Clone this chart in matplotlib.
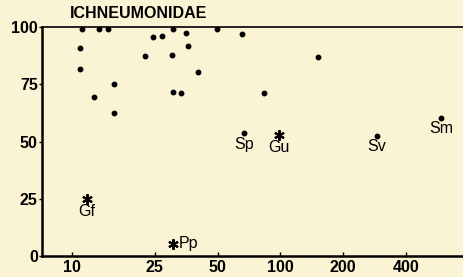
import matplotlib
matplotlib.use("Agg")
import matplotlib.pyplot as plt
from matplotlib.ticker import FixedLocator, NullLocator

# plain points (x = log scale, y = percent)
dot_x = [11.2, 10.9, 10.9, 13.5, 14.9, 12.8, 15.9, 15.9, 22.4, 24.5, 27.1,
         30.6, 30.2, 30.6, 33.4, 35.3, 36.1, 40.4, 49.8, 65.6, 150.7, 83.8]
dot_y = [99, 91, 81.5, 99, 99, 69.6, 75.3, 62.6, 87.2, 95.6, 96,
         99, 87.7, 71.8, 71.4, 97.4, 91.6, 80.2, 99, 97, 86.8, 71.4]

# labelled dots
lab_dot_names = ["Sp", "Sv", "Sm"]
lab_dot_x = [67.1, 289, 587]
lab_dot_y = [53.7, 52.4, 60.4]

# labelled asterisks
star_names = ["Gf", "Gu", "Pp"]
star_x = [11.8, 98, 30.6]
star_y = [25.1, 53, 5.3]

xticks = [10, 25, 50, 100, 200, 400]
yticks = [0, 25, 50, 75, 100]

bg = "#fbf4d4"
fig = plt.figure(figsize=(4.64, 2.77), dpi=100, facecolor=bg)
ax = fig.add_axes([0.0905, 0.076, 0.91, 0.826], facecolor=bg)

ax.set_xscale("log")
ax.set_xlim(7.2, 760)
ax.set_ylim(0, 100)

ax.plot(dot_x, dot_y, "o", color="black", markersize=3.2)
ax.plot(lab_dot_x, lab_dot_y, "o", color="black", markersize=3.2)
ax.plot(star_x, star_y, marker=(6, 2, 0), linestyle="none", color="black",
        markersize=7.5, markeredgewidth=1.5)

fs = 11.5
for n, x, y in zip(lab_dot_names, lab_dot_x, lab_dot_y):
    ax.text(x, y - 1.5, n, ha="center", va="top", fontsize=fs,
            family="Liberation Sans")
for n, x, y in zip(star_names, star_x, star_y):
    if n == "Pp":
        ax.text(x * 1.07, y, n, ha="left", va="center", fontsize=fs,
                family="Liberation Sans")
    else:
        ax.text(x, y - 2.5, n, ha="center", va="top", fontsize=fs,
                family="Liberation Sans")

ax.xaxis.set_major_locator(FixedLocator(xticks))
ax.xaxis.set_minor_locator(NullLocator())
ax.set_xticklabels([str(t) for t in xticks])
ax.set_yticks(yticks)
for lab in ax.get_xticklabels() + ax.get_yticklabels():
    lab.set_fontweight("bold")
    lab.set_fontsize(11.5)
    lab.set_family("Liberation Sans")
ax.tick_params(axis="x", direction="in", length=3, width=1, pad=3)
ax.tick_params(axis="y", direction="out", length=2, width=1, pad=1)

ax.spines["left"].set_linewidth(1.8)
ax.spines["bottom"].set_linewidth(1.8)
ax.spines["top"].set_linewidth(1.2)
ax.spines["right"].set_linewidth(1.0)

fig.text(0.151, 0.95, "ICHNEUMONIDAE", ha="left", va="center",
         fontsize=11.5, fontweight="bold", family="Liberation Sans")

fig.savefig("out.png", dpi=100, facecolor=bg)
